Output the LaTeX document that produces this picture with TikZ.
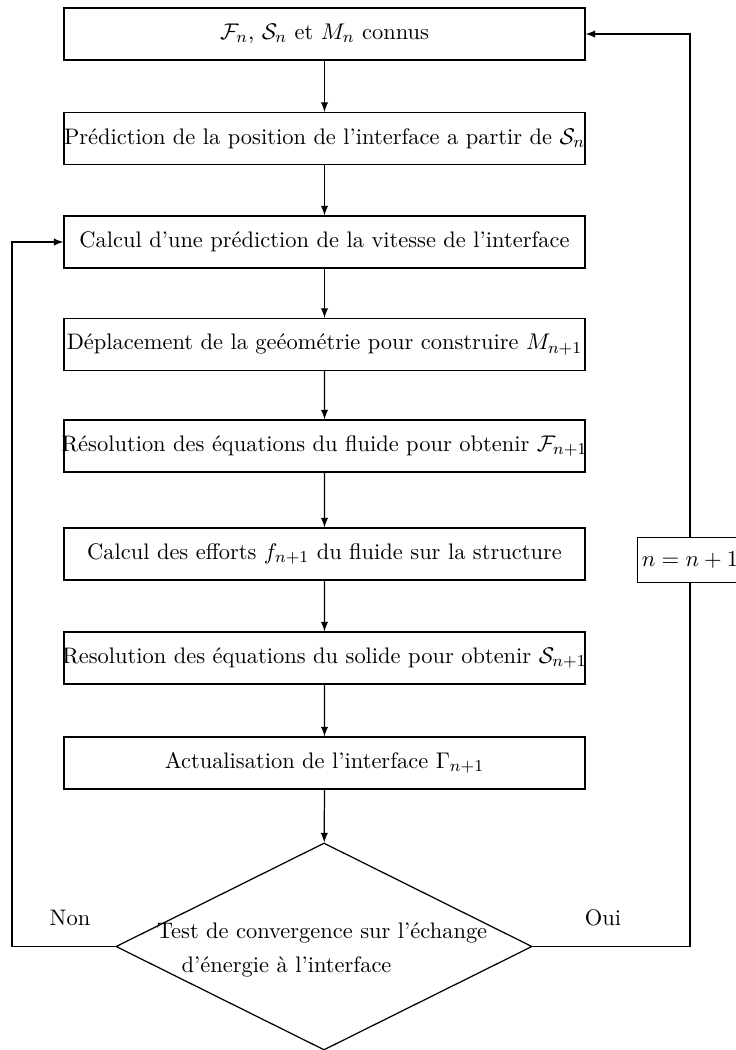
\documentclass[tikz,border=0pt]{standalone}
\usetikzlibrary{shapes.geometric}

\tikzset{
  etape/.style={draw,rectangle,minimum width=251.6pt,minimum height=25.1pt,inner xsep=-4pt},
  decision/.style={draw,diamond,minimum width=201pt,minimum height=100pt,inner sep=0pt},
  compteur/.style={draw,rectangle,minimum height=22pt,inner xsep=2pt}
}

\begin{document}
\begin{tikzpicture}[x=0.483pt,y=-0.483pt,>=latex,line width=0.6pt,
  font=\fontsize{10.85}{16}\selectfont]
\useasboundingbox (0,0) rectangle (736,1050);

\node [etape] (connus)      at (324.5, 34)   {$\mathcal{F}_n$, $\mathcal{S}_n$ et $M_n$ connus};
\node [etape] (prediction)  at (324.5,138.5) {Prédiction de la position de l'interface a partir de $\mathcal{S}_n$};
\node [etape] (vitesse)     at (324.5,242)   {Calcul d'une prédiction de la vitesse de l'interface};
\node [etape] (deplacement) at (324.5,344.5) {Déplacement de la geéométrie pour construire $M_{n+1}$};
\node [etape] (fluide)      at (324.5,446)   {Résolution des équations du fluide pour obtenir $\mathcal{F}_{n+1}$};
\node [etape] (efforts)     at (324.5,554)   {Calcul des efforts $f_{n+1}$ du fluide sur la structure};
\node [etape] (solide)      at (324.5,658)   {Resolution des équations du solide pour obtenir $\mathcal{S}_{n+1}$};
\node [etape] (interface)   at (324.5,763)   {Actualisation de l'interface $\Gamma_{n+1}$};
\node [decision] (test)     at (324,946.5)   {};
\node [align=left] (testtxt) at (322,950)
	{Test de convergence sur l'échange\\ \hspace*{12pt}d'énergie à l'interface};
\node [compteur] (incr)     at (690,560)     {$n=n+1$};
\node (non) at (70,918)  {Non};
\node (oui) at (603,918) {Oui};
\coordinate (retour) at (12,946.5);

\draw [->] (node cs:name=connus)      -- (node cs:name=prediction);
\draw [->] (node cs:name=prediction)  -- (node cs:name=vitesse);
\draw [->] (node cs:name=vitesse)     -- (node cs:name=deplacement);
\draw [->] (node cs:name=deplacement) -- (node cs:name=fluide);
\draw [->] (node cs:name=fluide)      -- (node cs:name=efforts);
\draw [->] (node cs:name=efforts)     -- (node cs:name=solide);
\draw [->] (node cs:name=solide)      -- (node cs:name=interface);
\draw [->] (node cs:name=interface)   -- (node cs:name=test);

\draw [->] (test) -- (retour) |- (vitesse);
\draw (test) -| (incr);
\draw [->] (incr) |- (connus);
\end{tikzpicture}
\end{document}
